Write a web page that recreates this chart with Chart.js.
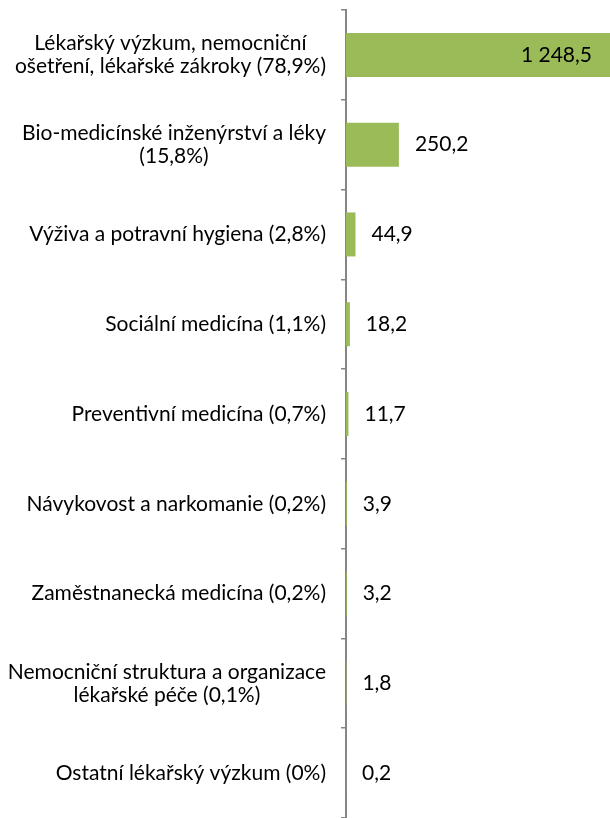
<!DOCTYPE html>
<html>
<head>
<meta charset="utf-8">
<script src="https://cdn.jsdelivr.net/npm/chart.js@4"></script>
<style>
  html, body { margin: 0; padding: 0; background: #fff; overflow: hidden; }
  #obal { width: 610px; height: 818px; }
</style>
</head>
<body>
<div id="obal"><canvas id="graf"></canvas></div>
<script>
// Data
const kategorie = [
  ['Lékařský výzkum, nemocniční', 'ošetření, lékařské zákroky (78,9%)'],
  ['Bio-medicínské inženýrství a léky', '(15,8%)'],
  ['Výživa a potravní hygiena (2,8%)'],
  ['Sociální medicína (1,1%)'],
  ['Preventivní medicína (0,7%)'],
  ['Návykovost a narkomanie (0,2%)'],
  ['Zaměstnanecká medicína (0,2%)'],
  ['Nemocniční struktura a organizace', 'lékařské péče (0,1%)'],
  ['Ostatní lékařský výzkum (0%)'],
];
const hodnoty = [1248.5, 250.2, 44.9, 18.2, 11.7, 3.9, 3.2, 1.8, 0.2];

const PISMO = '21px Lato, sans-serif';
const RADEK = 23;

// 1248.5 -> "1 248,5"
function cislo(v) {
  const [cela, des] = v.toFixed(1).split('.');
  return cela.replace(/\B(?=(\d{3})+(?!\d))/g, ' ') + ',' + des;
}

// Popisky kategorií (blok zarovnaný doprava, řádky na střed) a hodnoty u pruhů
const popisky = {
  id: 'popisky',
  afterDraw(chart) {
    const ctx = chart.ctx;
    const osaY = chart.scales.y;
    const plocha = chart.chartArea;
    ctx.save();
    ctx.font = PISMO;
    ctx.fillStyle = '#000';
    ctx.textBaseline = 'middle';
    ctx.textAlign = 'center';

    kategorie.forEach((radky, i) => {
      const yc = osaY.getPixelForValue(i);
      const sirka = Math.max(...radky.map(r => ctx.measureText(r).width));
      const cx = plocha.left - 20 - sirka / 2;
      radky.forEach((r, j) => {
        ctx.fillText(r, cx, yc + (j - (radky.length - 1) / 2) * RADEK);
      });
    });

    chart.getDatasetMeta(0).data.forEach((bar, i) => {
      const txt = cislo(hodnoty[i]);
      const w = ctx.measureText(txt).width;
      if (bar.x + 16 + w > chart.width) {
        ctx.textAlign = 'right';
        ctx.fillText(txt, bar.x - 18, bar.y);
      } else {
        ctx.textAlign = 'left';
        ctx.fillText(txt, bar.x + 16, bar.y);
      }
    });
    ctx.restore();
  },
};

new Chart(document.getElementById('graf'), {
  type: 'bar',
  data: {
    labels: kategorie,
    datasets: [{
      data: hodnoty,
      backgroundColor: '#9bbb59',
      borderWidth: 0,
      barPercentage: 0.49,
      categoryPercentage: 1,
    }],
  },
  options: {
    indexAxis: 'y',
    responsive: true,
    maintainAspectRatio: false,
    animation: false,
    layout: { padding: { top: 10, bottom: -5, left: 0, right: 0 } },
    plugins: {
      legend: { display: false },
      tooltip: { enabled: false },
    },
    scales: {
      x: {
        display: false,
        min: 0,
        max: Math.max(...hodnoty),
      },
      y: {
        offset: true,
        grid: {
          offset: true,
          drawOnChartArea: false,
          drawTicks: true,
          tickLength: 5,
          color: '#868686',
          lineWidth: 1.5,
        },
        border: { color: '#868686', width: 2 },
        ticks: { display: false },
        afterFit(s) { s.width = 346; },
      },
    },
  },
  plugins: [popisky],
});
</script>
</body>
</html>
